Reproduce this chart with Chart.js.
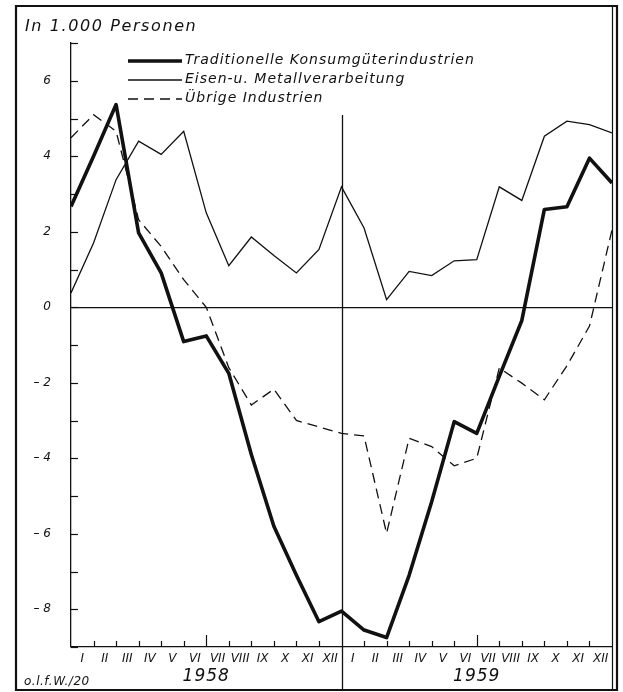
<!DOCTYPE html>
<html><head><meta charset="utf-8">
<script src="https://cdn.jsdelivr.net/npm/chart.js@4/dist/chart.umd.min.js"></script>
<style>html,body{margin:0;padding:0;background:#fff}#wrap{width:623px;height:692px;position:relative}canvas{display:block}</style>
</head><body><div id="wrap"><canvas id="c" width="623" height="692"></canvas></div>
<script>
const months = ['I','II','III','IV','V','VI','VII','VIII','IX','X','XI','XII','I','II','III','IV','V','VI','VII','VIII','IX','X','XI','XII'];
const years = ['1958','1959'];
const seriesNames = ['Traditionelle Konsumgüterindustrien','Eisen-u. Metallverarbeitung','Übrige Industrien'];
const konsum  = [2.67,4.0,5.37,1.97,0.91,-0.91,-0.76,-1.75,-3.9,-5.8,-7.1,-8.33,-8.05,-8.55,-8.75,-7.1,-5.15,-3.03,-3.34,-1.83,-0.35,2.59,2.66,3.95,3.29];
const eisen   = [0.38,1.7,3.38,4.4,4.05,4.66,2.5,1.1,1.86,1.37,0.91,1.53,3.19,2.1,0.2,0.95,0.84,1.23,1.26,3.19,2.83,4.53,4.93,4.84,4.62];
const uebrige = [4.49,5.1,4.66,2.32,1.61,0.73,0,-1.6,-2.59,-2.17,-3.0,-3.17,-3.34,-3.41,-5.99,-3.47,-3.69,-4.2,-4.0,-1.61,-2.01,-2.45,-1.55,-0.5,2.05];
const yMin = -9, yMax = 7;
const titleText = 'In 1.000 Personen';
const sourceText = 'o.l.f.W./20';

const INK = '#111';
const FONT = '"DejaVu Sans", sans-serif';
const toPts = a => a.map((v, i) => ({x: i, y: v}));

const deco = {
  id: 'deco',
  afterDraw(chart) {
    const ctx = chart.ctx, xs = chart.scales.x, ys = chart.scales.y, ca = chart.chartArea;
    ctx.save();
    ctx.strokeStyle = INK; ctx.fillStyle = INK;
    ctx.lineWidth = 1.2;
    for (let v = yMin; v <= yMax; v++) {
      const py = Math.round(ys.getPixelForValue(v)) + 0.5;
      ctx.beginPath(); ctx.moveTo(ca.left, py); ctx.lineTo(ca.left + 7, py); ctx.stroke();
    }
    for (let k = 1; k < months.length; k++) {
      if (k === 12) continue;
      const px = Math.round(xs.getPixelForValue(k)) + 0.5;
      const h = (k % 6 === 0) ? 12 : 6;
      ctx.beginPath(); ctx.moveTo(px, ca.bottom); ctx.lineTo(px, ca.bottom - h); ctx.stroke();
    }
    const dx = Math.round(xs.getPixelForValue(12)) + 0.5;
    ctx.lineWidth = 1.3;
    ctx.beginPath(); ctx.moveTo(dx, 115); ctx.lineTo(dx, 690); ctx.stroke();
    ctx.lineWidth = 2.2;
    ctx.beginPath();
    ctx.moveTo(16, 6); ctx.lineTo(617, 6); ctx.lineTo(617, 690); ctx.lineTo(16, 690); ctx.closePath(); ctx.stroke();
    ctx.lineWidth = 1.2;
    ctx.beginPath(); ctx.moveTo(612.5, 6); ctx.lineTo(612.5, 690); ctx.stroke();
    ctx.textBaseline = 'middle'; ctx.textAlign = 'left';
    ctx.font = 'italic 16px ' + FONT;
    try { ctx.letterSpacing = '1.6px'; } catch(e) {}
    ctx.fillText(titleText, 25, 27);
    ctx.font = 'italic 14px ' + FONT;
    try { ctx.letterSpacing = '1px'; } catch(e) {}
    chart.data.datasets.forEach((ds, i) => {
      const ly = 61 + 19 * i;
      ctx.save();
      ctx.lineWidth = ds.borderWidth;
      ctx.setLineDash(ds.borderDash || []);
      ctx.beginPath(); ctx.moveTo(128, ly); ctx.lineTo(182, ly); ctx.stroke();
      ctx.restore();
      ctx.fillText(ds.label, 185, ly - 1);
    });
    ctx.font = 'italic 17px ' + FONT;
    try { ctx.letterSpacing = '1px'; } catch(e) {}
    ctx.textAlign = 'center';
    years.forEach((yr, i) => {
      const cx = (xs.getPixelForValue(12 * i) + xs.getPixelForValue(12 * i + 12)) / 2;
      ctx.fillText(yr, cx, 677);
    });
    ctx.textAlign = 'left';
    ctx.font = 'italic 12px ' + FONT;
    try { ctx.letterSpacing = '0.5px'; } catch(e) {}
    ctx.fillText(sourceText, 24, 682);
    ctx.restore();
  }
};

new Chart(document.getElementById('c').getContext('2d'), {
  type: 'line',
  data: {
    labels: months,
    datasets: [
      {label: seriesNames[0], data: toPts(konsum), borderColor: INK, borderWidth: 3.6, pointRadius: 0, xAxisID: 'x', yAxisID: 'y', borderJoinStyle: 'round', tension: 0},
      {label: seriesNames[1], data: toPts(eisen), borderColor: INK, borderWidth: 1.3, pointRadius: 0, xAxisID: 'x', yAxisID: 'y', tension: 0},
      {label: seriesNames[2], data: toPts(uebrige), borderColor: INK, borderWidth: 1.3, borderDash: [10, 6], pointRadius: 0, xAxisID: 'x', yAxisID: 'y', tension: 0}
    ]
  },
  options: {
    responsive: false, animation: false,
    layout: {padding: {left: 0, right: 11, top: 43, bottom: 0}},
    plugins: {legend: {display: false}, tooltip: {enabled: false}},
    scales: {
      x: {type: 'linear', min: 0, max: 24, display: false},
      xm: {
        type: 'category', labels: months, offset: true, position: 'bottom',
        grid: {display: false, drawTicks: false},
        border: {display: true, color: INK, width: 1.3},
        ticks: {color: INK, font: {family: FONT, style: 'italic', size: 12}, padding: 5, maxRotation: 0, autoSkip: false},
        afterFit(s) { s.height = 45; }
      },
      y: {
        min: yMin, max: yMax,
        ticks: {
          stepSize: 1, color: INK, padding: 20,
          font: {family: FONT, style: 'italic', size: 12},
          callback: v => (v % 2 === 0 && v > yMin && v < yMax) ? (v < 0 ? '– ' + Math.abs(v) : String(v)) : ''
        },
        grid: {drawTicks: false, lineWidth: 1.2, color: c => (c.tick && c.tick.value === 0) ? INK : 'rgba(0,0,0,0)'},
        border: {display: true, color: INK, width: 1.3},
        afterFit(s) { s.width = 71; }
      }
    }
  },
  plugins: [deco]
});
</script>
</body></html>
